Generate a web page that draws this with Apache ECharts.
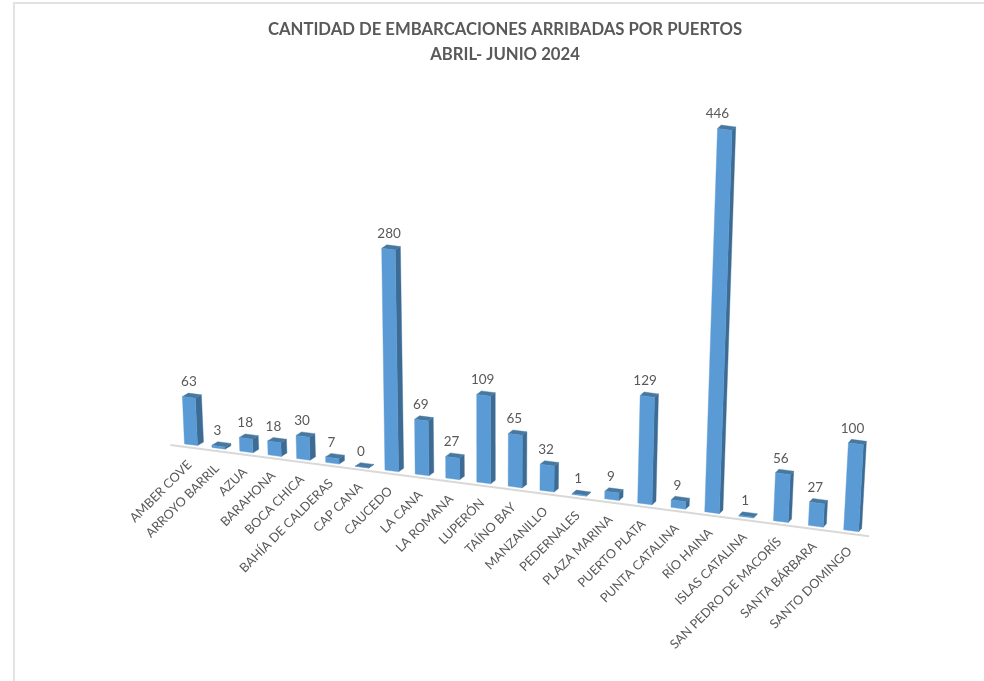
<!DOCTYPE html>
<html><head><meta charset="utf-8">
<style>html,body{margin:0;padding:0;background:#fff}#c{width:984px;height:681px}</style>
<script src="https://cdn.jsdelivr.net/npm/echarts@6/dist/echarts.min.js"></script>
</head><body><div id="c"></div>
<script>
const titleLines = ['CANTIDAD DE EMBARCACIONES ARRIBADAS POR PUERTOS', 'ABRIL- JUNIO 2024'];
const categories = ['AMBER COVE','ARROYO BARRIL','AZUA','BARAHONA','BOCA CHICA','BAHÍA DE CALDERAS','CAP CANA','CAUCEDO','LA CANA','LA ROMANA','LUPERÓN','TAÍNO BAY','MANZANILLO','PEDERNALES','PLAZA MARINA','PUERTO PLATA','PUNTA CATALINA','RÍO HAINA','ISLAS CATALINA','SAN PEDRO DE MACORÍS','SANTA BÁRBARA','SANTO DOMINGO'];
const values = [63,3,18,18,30,7,0,280,69,27,109,65,32,1,9,129,9,446,1,56,27,100];

const FRONT='#5b9bd5', SIDE='#3c6b94', TOP='#47789f', TEXT='#595959', FONT='Lato, "Open Sans", sans-serif';
const GRID={left:175.26,width:692.5,top:100,height:500};
const STEP=GRID.width/categories.length, X0=GRID.left+STEP/2;
const SLOPE=0.1304;

// Perspective of the tilted 3-D floor, applied on top of the cartesian scale.
function floorX(px){const i=(px-X0)/STEP;return 191+27.3*i+0.197*i*i;}
function floorY(x){return 445+SLOPE*(x-170);}
function heightScale(x,h){return (0.75+0.00018*(x-190))*(1+0.9e-7*h*h);}
function lean(x){return (x-490)*0.00015;}

function renderBar(params,api){
  const i=api.value(0), v=api.value(1);
  const base=api.coord([i,0]), top=api.coord([i,v]);
  const X=floorX(base[0]), Yb=floorY(X)-3;
  const raw=base[1]-top[1];
  const h=raw*heightScale(X,raw);
  const w=13+(X-190)*0.003, hw=w/2;
  const sl=SLOPE*hw, tx=h*lean(X);
  const ddx=6-(X-190)*0.0045, ddy=-3.5;
  const BL=[X-hw,Yb-sl], BR=[X+hw,Yb+sl];
  const TL=[BL[0]+tx,BL[1]-h], TR=[BR[0]+tx,BR[1]-h];
  const d=p=>[p[0]+ddx,p[1]+ddy];
  const poly=(pts,c)=>({type:'polygon',shape:{points:pts},style:{fill:c,stroke:c,lineWidth:0.4}});
  return {type:'group',children:[
    poly([BR,d(BR),d(TR),TR],SIDE),
    poly([TL,TR,d(TR),d(TL)],TOP),
    poly([BL,BR,TR,TL],FRONT),
    {type:'text',x:X+tx*0.5-1,y:TL[1]+ddy-11,style:{text:String(v),x:0,y:0,align:'center',verticalAlign:'middle',fill:TEXT,font:'13.5px '+FONT}},
    {type:'text',x:X-1.5,y:floorY(X)+15,rotation:Math.PI/4,style:{text:categories[i],x:0,y:0,align:'right',verticalAlign:'middle',fill:TEXT,font:'12.7px '+FONT}}
  ]};
}
function renderFloor(params,api){
  const a=floorX(api.coord([0,0])[0]-0.76*STEP), b=floorX(api.coord([0,0])[0]+21.5*STEP);
  return {type:'line',shape:{x1:a,y1:floorY(a),x2:b,y2:floorY(b)},style:{stroke:'#d9d9d9',lineWidth:2}};
}
const chart=echarts.init(document.getElementById('c'),null,{renderer:'canvas'});
chart.setOption({
  animation:false,backgroundColor:'#ffffff',
  title:{text:titleLines.join('\n'),left:505,top:17,textAlign:'center',padding:0,
    textStyle:{fontFamily:FONT,fontSize:16.7,fontWeight:'bold',color:TEXT,lineHeight:25}},
  graphic:[{type:'rect',silent:true,shape:{x:14,y:3,width:1100,height:800},style:{fill:null,stroke:'#e2e2e2',lineWidth:2}}],
  grid:GRID,
  xAxis:{type:'category',data:categories,show:false},
  yAxis:{type:'value',min:0,max:500,show:false},
  tooltip:{show:false},
  series:[
    {type:'custom',name:'floor',data:[[0,0]],renderItem:renderFloor,silent:true,encode:{x:0,y:1},z:1},
    {type:'custom',name:'Embarcaciones',data:values.map((v,i)=>[i,v]),renderItem:renderBar,encode:{x:0,y:1},z:2}
  ]
});
</script></body></html>
